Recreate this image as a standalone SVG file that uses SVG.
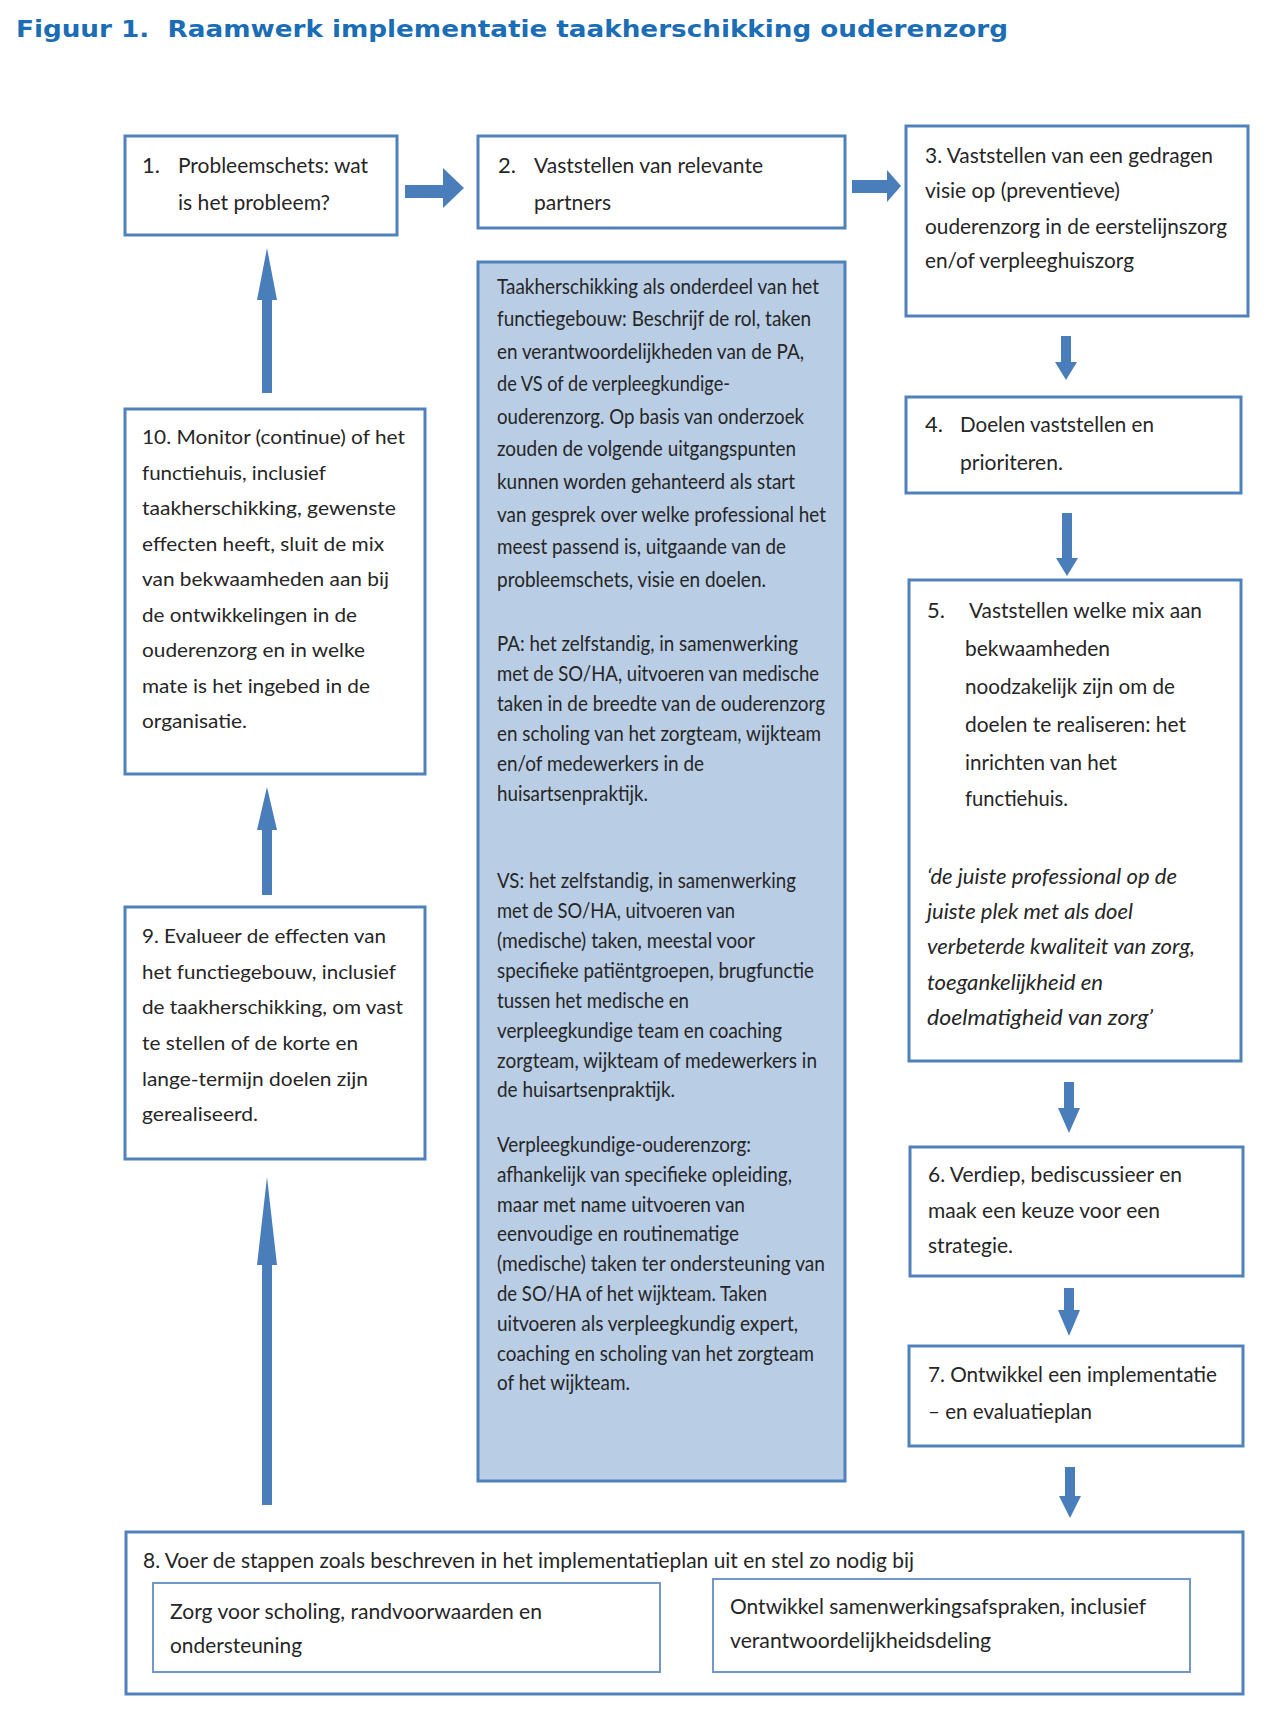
<svg xmlns="http://www.w3.org/2000/svg" width="1280" height="1717" viewBox="0 0 1280 1717">
<style>
.bg{fill:#ffffff}
.box{fill:#ffffff;stroke:#4f81bd;stroke-width:3}
.mid{fill:#b9cde5;stroke:#4f81bd;stroke-width:3}
.inner{fill:#ffffff;stroke:#7396cb;stroke-width:2}
.arr{fill:#4a7ebb}
.t{font-family:Lato,"Open Sans","Liberation Sans",sans-serif;font-size:22px;fill:#262626}
.s{font-size:20px}
.m{font-size:20.5px}
.i{font-style:italic}
.title{font-family:"DejaVu Sans",Verdana,sans-serif;font-weight:bold;font-size:23px;fill:#1b6db5}
</style>
<rect class="bg" x="0" y="0" width="1280" height="1717"/>
<text class="title" x="16" y="37" textLength="992" lengthAdjust="spacingAndGlyphs" xml:space="preserve">Figuur 1.  Raamwerk implementatie taakherschikking ouderenzorg</text>

<g id="connectors">
<polygon class="arr" points="405,185 443,185 443,168 464,188 443,208 443,198 405,198"/>
<polygon class="arr" points="852,180 887,180 887,170 901,186 887,202 887,193 852,193"/>
<polygon class="arr" points="1061,336 1071,336 1071,362 1077,362 1066,380 1055,362 1061,362"/>
<polygon class="arr" points="1062,513 1072,513 1072,558 1078,558 1067,576 1056,558 1062,558"/>
<polygon class="arr" points="1064,1082 1074,1082 1074,1108 1080,1108 1069,1133 1058,1108 1064,1108"/>
<polygon class="arr" points="1064,1288 1074,1288 1074,1310 1080,1310 1069,1336 1058,1310 1064,1310"/>
<polygon class="arr" points="1065,1467 1075,1467 1075,1496 1081,1496 1070,1518 1059,1496 1065,1496"/>
<polygon class="arr" points="262,393 262,300 257,300 267,248 277,300 272,300 272,393"/>
<polygon class="arr" points="262,895 262,830 257,830 267,787 277,830 272,830 272,895"/>
<polygon class="arr" points="262,1505 262,1265 257,1265 267,1177 277,1265 272,1265 272,1505"/>
</g>

<g id="node1">
<rect class="box" x="125" y="136" width="272" height="99"/>
<text class="t" x="142" y="173">1.</text>
<text class="t" x="178" y="173" textLength="190" lengthAdjust="spacingAndGlyphs">Probleemschets: wat</text>
<text class="t" x="178" y="210" textLength="152" lengthAdjust="spacingAndGlyphs">is het probleem?</text>
</g>

<g id="node2">
<rect class="box" x="478" y="136" width="367" height="92"/>
<text class="t" x="498" y="173">2.</text>
<text class="t" x="534" y="173" textLength="229" lengthAdjust="spacingAndGlyphs">Vaststellen van relevante</text>
<text class="t" x="534" y="210" textLength="77" lengthAdjust="spacingAndGlyphs">partners</text>
</g>

<g id="node3">
<rect class="box" x="906" y="126" width="342" height="190"/>
<text class="t" x="925" y="163" textLength="288" lengthAdjust="spacingAndGlyphs">3. Vaststellen van een gedragen</text>
<text class="t" x="925" y="198" textLength="195" lengthAdjust="spacingAndGlyphs">visie op (preventieve)</text>
<text class="t" x="925" y="234" textLength="302" lengthAdjust="spacingAndGlyphs">ouderenzorg in de eerstelijnszorg</text>
<text class="t" x="925" y="268" textLength="209" lengthAdjust="spacingAndGlyphs">en/of verpleeghuiszorg</text>
</g>

<g id="node4">
<rect class="box" x="906" y="397" width="335" height="96"/>
<text class="t" x="925" y="432">4.</text>
<text class="t" x="960" y="432" textLength="194" lengthAdjust="spacingAndGlyphs">Doelen vaststellen en</text>
<text class="t" x="960" y="470" textLength="103" lengthAdjust="spacingAndGlyphs">prioriteren.</text>
</g>

<g id="node5">
<rect class="box" x="909" y="580" width="332" height="481"/>
<text class="t" x="927" y="618">5.</text>
<text class="t" x="969" y="618" textLength="233" lengthAdjust="spacingAndGlyphs">Vaststellen welke mix aan</text>
<text class="t" x="965" y="656" textLength="145" lengthAdjust="spacingAndGlyphs">bekwaamheden</text>
<text class="t" x="965" y="694" textLength="210" lengthAdjust="spacingAndGlyphs">noodzakelijk zijn om de</text>
<text class="t" x="965" y="732" textLength="221" lengthAdjust="spacingAndGlyphs">doelen te realiseren: het</text>
<text class="t" x="965" y="770" textLength="152" lengthAdjust="spacingAndGlyphs">inrichten van het</text>
<text class="t" x="965" y="806" textLength="103" lengthAdjust="spacingAndGlyphs">functiehuis.</text>
<text class="t i" x="927" y="884" textLength="250" lengthAdjust="spacingAndGlyphs">‘de juiste professional op de</text>
<text class="t i" x="927" y="919" textLength="206" lengthAdjust="spacingAndGlyphs">juiste plek met als doel</text>
<text class="t i" x="927" y="954" textLength="268" lengthAdjust="spacingAndGlyphs">verbeterde kwaliteit van zorg,</text>
<text class="t i" x="927" y="990" textLength="176" lengthAdjust="spacingAndGlyphs">toegankelijkheid en</text>
<text class="t i" x="927" y="1025" textLength="226" lengthAdjust="spacingAndGlyphs">doelmatigheid van zorg’</text>
</g>

<g id="node6">
<rect class="box" x="910" y="1147" width="333" height="129"/>
<text class="t" x="928" y="1182" textLength="254" lengthAdjust="spacingAndGlyphs">6. Verdiep, bediscussieer en</text>
<text class="t" x="928" y="1218" textLength="232" lengthAdjust="spacingAndGlyphs">maak een keuze voor een</text>
<text class="t" x="928" y="1253" textLength="85" lengthAdjust="spacingAndGlyphs">strategie.</text>
</g>

<g id="node7">
<rect class="box" x="909" y="1346" width="334" height="100"/>
<text class="t" x="928" y="1382" textLength="289" lengthAdjust="spacingAndGlyphs">7. Ontwikkel een implementatie</text>
<text class="t" x="928" y="1419" textLength="164" lengthAdjust="spacingAndGlyphs">– en evaluatieplan</text>
</g>

<g id="node8">
<rect class="box" x="126" y="1532" width="1117" height="162"/>
<text class="t" x="143" y="1568" textLength="771" lengthAdjust="spacingAndGlyphs">8. Voer de stappen zoals beschreven in het implementatieplan uit en stel zo nodig bij</text>
<rect class="inner" x="153" y="1583" width="507" height="89"/>
<text class="t" x="170" y="1619" textLength="372" lengthAdjust="spacingAndGlyphs">Zorg voor scholing, randvoorwaarden en</text>
<text class="t" x="170" y="1653" textLength="132" lengthAdjust="spacingAndGlyphs">ondersteuning</text>
<rect class="inner" x="713" y="1579" width="477" height="93"/>
<text class="t" x="730" y="1614" textLength="416" lengthAdjust="spacingAndGlyphs">Ontwikkel samenwerkingsafspraken, inclusief</text>
<text class="t" x="730" y="1648" textLength="261" lengthAdjust="spacingAndGlyphs">verantwoordelijkheidsdeling</text>
</g>

<g id="node9">
<rect class="box" x="125" y="907" width="300" height="252"/>
<text class="t s" x="142" y="943" textLength="244" lengthAdjust="spacingAndGlyphs">9. Evalueer de effecten van</text>
<text class="t s" x="142" y="979" textLength="254" lengthAdjust="spacingAndGlyphs">het functiegebouw, inclusief</text>
<text class="t s" x="142" y="1014" textLength="261" lengthAdjust="spacingAndGlyphs">de taakherschikking, om vast</text>
<text class="t s" x="142" y="1050" textLength="216" lengthAdjust="spacingAndGlyphs">te stellen of de korte en</text>
<text class="t s" x="142" y="1086" textLength="226" lengthAdjust="spacingAndGlyphs">lange-termijn doelen zijn</text>
<text class="t s" x="142" y="1121" textLength="116" lengthAdjust="spacingAndGlyphs">gerealiseerd.</text>
</g>

<g id="node10">
<rect class="box" x="125" y="409" width="300" height="365"/>
<text class="t s" x="142" y="444" textLength="263" lengthAdjust="spacingAndGlyphs">10. Monitor (continue) of het</text>
<text class="t s" x="142" y="479.5" textLength="184" lengthAdjust="spacingAndGlyphs">functiehuis, inclusief</text>
<text class="t s" x="142" y="515" textLength="254" lengthAdjust="spacingAndGlyphs">taakherschikking,  gewenste</text>
<text class="t s" x="142" y="550.5" textLength="242" lengthAdjust="spacingAndGlyphs">effecten heeft, sluit de mix</text>
<text class="t s" x="142" y="586" textLength="247" lengthAdjust="spacingAndGlyphs">van bekwaamheden aan bij</text>
<text class="t s" x="142" y="621.5" textLength="215" lengthAdjust="spacingAndGlyphs">de ontwikkelingen in de</text>
<text class="t s" x="142" y="657" textLength="223" lengthAdjust="spacingAndGlyphs">ouderenzorg en in welke</text>
<text class="t s" x="142" y="692.5" textLength="228" lengthAdjust="spacingAndGlyphs">mate is het ingebed in de</text>
<text class="t s" x="142" y="728" textLength="105" lengthAdjust="spacingAndGlyphs">organisatie.</text>
</g>

<g id="node-taakherschikking">
<rect class="mid" x="478" y="262" width="367" height="1219"/>
<text class="t m" x="497" y="294" textLength="322" lengthAdjust="spacingAndGlyphs">Taakherschikking als onderdeel van het</text>
<text class="t m" x="497" y="326" textLength="314" lengthAdjust="spacingAndGlyphs">functiegebouw:  Beschrijf de rol, taken</text>
<text class="t m" x="497" y="359" textLength="307" lengthAdjust="spacingAndGlyphs">en verantwoordelijkheden van de PA,</text>
<text class="t m" x="497" y="391" textLength="233" lengthAdjust="spacingAndGlyphs">de VS of de verpleegkundige-</text>
<text class="t m" x="497" y="424" textLength="307" lengthAdjust="spacingAndGlyphs">ouderenzorg. Op basis van onderzoek</text>
<text class="t m" x="497" y="456" textLength="299" lengthAdjust="spacingAndGlyphs">zouden de volgende uitgangspunten</text>
<text class="t m" x="497" y="489" textLength="298" lengthAdjust="spacingAndGlyphs">kunnen worden gehanteerd als start</text>
<text class="t m" x="497" y="522" textLength="329" lengthAdjust="spacingAndGlyphs">van gesprek over welke professional het</text>
<text class="t m" x="497" y="554" textLength="289" lengthAdjust="spacingAndGlyphs">meest passend is, uitgaande van de</text>
<text class="t m" x="497" y="587" textLength="269" lengthAdjust="spacingAndGlyphs">probleemschets, visie en doelen.</text>
<text class="t m" x="497" y="651" textLength="301" lengthAdjust="spacingAndGlyphs">PA: het zelfstandig, in samenwerking</text>
<text class="t m" x="497" y="681" textLength="322" lengthAdjust="spacingAndGlyphs">met de SO/HA, uitvoeren van medische</text>
<text class="t m" x="497" y="711" textLength="328" lengthAdjust="spacingAndGlyphs">taken in de breedte van de ouderenzorg</text>
<text class="t m" x="497" y="741" textLength="324" lengthAdjust="spacingAndGlyphs">en scholing van het  zorgteam, wijkteam</text>
<text class="t m" x="497" y="771" textLength="207" lengthAdjust="spacingAndGlyphs">en/of medewerkers in de</text>
<text class="t m" x="497" y="801" textLength="151" lengthAdjust="spacingAndGlyphs">huisartsenpraktijk.</text>
<text class="t m" x="497" y="888" textLength="299" lengthAdjust="spacingAndGlyphs">VS: het zelfstandig, in samenwerking</text>
<text class="t m" x="497" y="918" textLength="238" lengthAdjust="spacingAndGlyphs">met de SO/HA, uitvoeren van</text>
<text class="t m" x="497" y="948" textLength="258" lengthAdjust="spacingAndGlyphs">(medische) taken, meestal voor</text>
<text class="t m" x="497" y="978" textLength="317" lengthAdjust="spacingAndGlyphs">specifieke patiëntgroepen, brugfunctie</text>
<text class="t m" x="497" y="1008" textLength="192" lengthAdjust="spacingAndGlyphs">tussen het medische en</text>
<text class="t m" x="497" y="1038" textLength="285" lengthAdjust="spacingAndGlyphs">verpleegkundige team en coaching</text>
<text class="t m" x="497" y="1068" textLength="320" lengthAdjust="spacingAndGlyphs">zorgteam, wijkteam of medewerkers in</text>
<text class="t m" x="497" y="1097" textLength="178" lengthAdjust="spacingAndGlyphs">de huisartsenpraktijk.</text>
<text class="t m" x="497" y="1152" textLength="254" lengthAdjust="spacingAndGlyphs">Verpleegkundige-ouderenzorg:</text>
<text class="t m" x="497" y="1182" textLength="295" lengthAdjust="spacingAndGlyphs">afhankelijk van specifieke opleiding,</text>
<text class="t m" x="497" y="1212" textLength="248" lengthAdjust="spacingAndGlyphs">maar met name uitvoeren van</text>
<text class="t m" x="497" y="1241" textLength="242" lengthAdjust="spacingAndGlyphs">eenvoudige en routinematige</text>
<text class="t m" x="497" y="1271" textLength="328" lengthAdjust="spacingAndGlyphs">(medische) taken ter ondersteuning van</text>
<text class="t m" x="497" y="1301" textLength="270" lengthAdjust="spacingAndGlyphs">de SO/HA of het wijkteam. Taken</text>
<text class="t m" x="497" y="1331" textLength="301" lengthAdjust="spacingAndGlyphs">uitvoeren als verpleegkundig expert,</text>
<text class="t m" x="497" y="1361" textLength="317" lengthAdjust="spacingAndGlyphs">coaching en scholing van het zorgteam</text>
<text class="t m" x="497" y="1390" textLength="133" lengthAdjust="spacingAndGlyphs">of het wijkteam.</text>
</g>
</svg>
